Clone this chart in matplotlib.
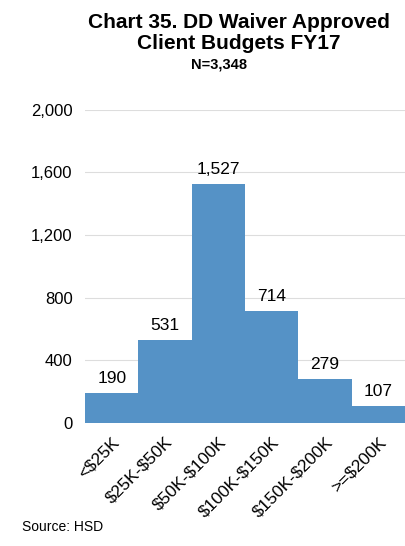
import matplotlib.pyplot as plt

categories = ["<$25K", "$25K-$50K", "$50K-$100K", "$100K-$150K", "$150K-$200K", ">=$200K"]
counts = [190, 531, 1527, 714, 279, 107]
yticks = [0, 400, 800, 1200, 1600, 2000]

plt.rcParams['font.family'] = ['Liberation Sans', 'DejaVu Sans']
plt.rcParams['text.parse_math'] = False

fig = plt.figure(figsize=(4.05, 5.46), dpi=100)
ax = fig.add_axes([0.21, 0.225, 0.79, 0.574])

x = range(len(categories))
ax.bar(x, counts, width=1.0, color="#5592c6", zorder=2)
for i, v in zip(x, counts):
    ax.text(i, v + 45, f"{v:,}", ha="center", va="bottom", fontsize=12.5)

ax.set_xlim(-0.5, len(categories) - 0.5)
ax.set_ylim(0, 2000)
ax.set_yticks(yticks)
ax.set_yticklabels([f"{t:,}" for t in yticks], fontsize=12)
ax.set_xticks(list(x))
ax.set_xticklabels(categories, rotation=45, ha="right", rotation_mode="anchor", fontsize=12.5)
ax.tick_params(length=0, pad=9)
ax.tick_params(axis="x", pad=8)
ax.grid(axis="y", color="#dddddd", linewidth=0.8, zorder=0)
for s in ax.spines.values():
    s.set_visible(False)

fig.text(0.59, 0.977, "Chart 35. DD Waiver Approved\nClient Budgets FY17", ha="center", va="top",
         fontsize=15, fontweight="bold", linespacing=1.15)
fig.text(0.54, 0.882, "N=3,348", ha="center", va="center", fontsize=10.5, fontweight="bold")
fig.text(0.055, 0.035, "Source: HSD", ha="left", va="center", fontsize=10)

fig.savefig("out.png", dpi=100)
